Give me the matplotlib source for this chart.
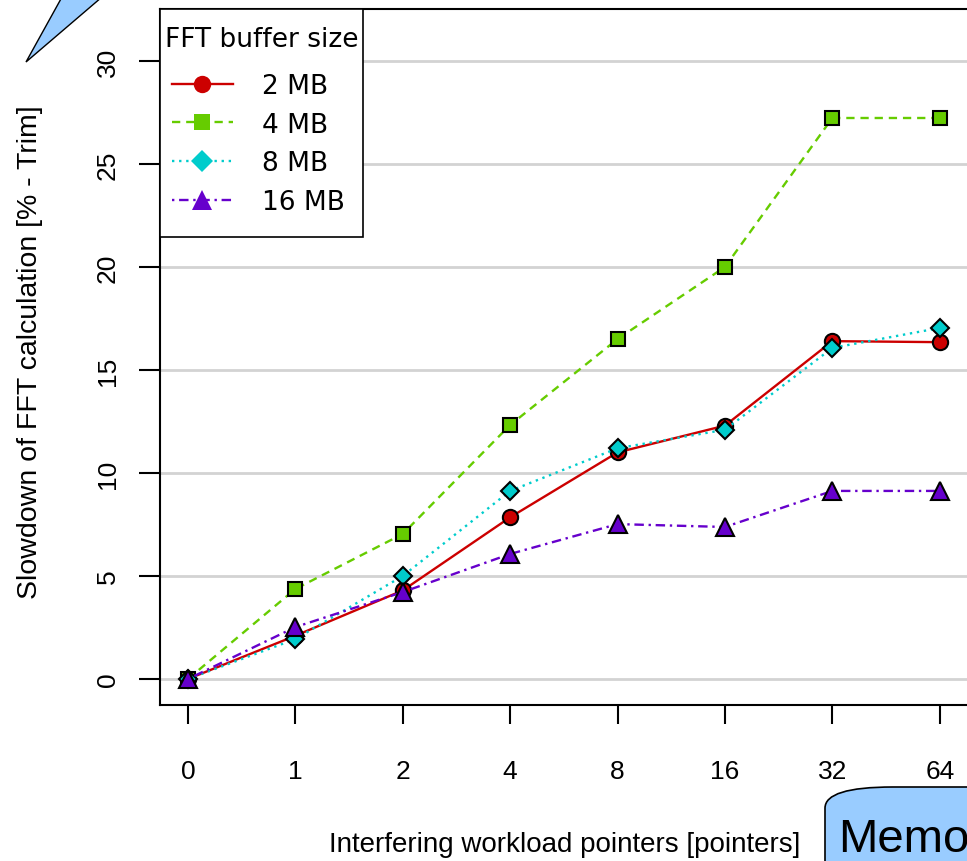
import matplotlib
matplotlib.use("Agg")
import matplotlib.pyplot as plt
from matplotlib.lines import Line2D
from matplotlib.patches import Polygon, FancyBboxPatch, Rectangle

# pointer counts (categorical x axis)
pointers = ["0", "1", "2", "4", "8", "16", "32", "64"]

# slowdown [%] per FFT buffer size
slow_2mb = [0.0, 2.1, 4.3, 7.85, 11.0, 12.3, 16.4, 16.35]
slow_4mb = [0.0, 4.37, 7.04, 12.33, 16.5, 20.0, 27.23, 27.23]
slow_8mb = [0.0, 1.94, 5.0, 9.13, 11.2, 12.1, 16.07, 17.04]
slow_16mb = [0.0, 2.52, 4.22, 6.07, 7.52, 7.38, 9.13, 9.13]

labels = ["2 MB", "4 MB", "8 MB", "16 MB"]
colors = ["#CC0000", "#66CC00", "#00CCCC", "#6600CC"]
markers = ["o", "s", "D", "^"]
msizes = [11, 10, 9.5, 13]
styles = ["-", (0, (3.5, 2.5)), (0, (1, 2)), (0, (1, 2, 4, 2))]

W, H = 967, 862
plt.rcParams['font.family'] = ['Liberation Sans', 'DejaVu Sans']
fig = plt.figure(figsize=(W / 100, H / 100), dpi=100)


def fx(x):
    return x / W


def fy(y):
    return 1 - y / H


ax = fig.add_axes([fx(160), fy(706), fx(972) - fx(160), fy(10) - fy(706)])

xs = list(range(len(pointers)))
series = [slow_2mb, slow_4mb, slow_8mb, slow_16mb]
for vals, c, m, ms, ls in zip(series, colors, markers, msizes, styles):
    ax.plot(xs, vals, color=c, linestyle=ls, linewidth=1.7, marker=m,
            markersize=ms, markerfacecolor=c, markeredgecolor="black",
            markeredgewidth=1.5, zorder=3)

ax.set_xlim(-0.26, 7.3)
ax.set_ylim(-1.26, 32.52)
ax.set_yticks([0, 5, 10, 15, 20, 25, 30])
ax.set_xticks(xs)
ax.set_xticklabels(pointers)
ax.grid(axis="y", color="#D3D3D3", linewidth=2, zorder=0)
for s in ax.spines.values():
    s.set_linewidth(1.5)
ax.spines["right"].set_visible(False)

ax.tick_params(axis="x", length=14, width=1.5, pad=25, labelsize=19)
ax.tick_params(axis="y", length=15, width=1.5, pad=14, labelsize=19,
               labelrotation=90)
for t in ax.get_yticklabels():
    t.set_va("center")

fig.text(fx(30), fy(352), "Slowdown of FFT calculation [% - Trim]",
         fontsize=20.5, rotation=90, ha="center", va="center")
fig.text(fx(565), fy(845), "Interfering workload pointers [pointers]",
         fontsize=20, ha="center", va="center")

# legend: frame and title drawn separately, like the taller R legend box
frame = Rectangle((fx(160), fy(238)), fx(363) - fx(160), fy(10) - fy(238),
                  transform=fig.transFigure, facecolor="white",
                  edgecolor="black", linewidth=1.2, zorder=4)
fig.patches.append(frame)
fig.text(fx(165), fy(40), "FFT buffer size", family="DejaVu Sans",
         fontsize=19, ha="left", va="center", zorder=6)
handles = [Line2D([], [], color=c, linestyle=ls, linewidth=1.7, marker=m,
                  markersize=ms + 1.5, markeredgewidth=0)
           for c, m, ms, ls in zip(colors, markers, msizes, styles)]
leg = fig.legend(handles, labels, loc="upper left",
                 bbox_to_anchor=(fx(160), fy(62)), bbox_transform=fig.transFigure,
                 borderaxespad=0, frameon=False,
                 handlelength=2.3, handletextpad=1.1, labelspacing=0.48,
                 borderpad=0.45, prop={"family": "DejaVu Sans", "size": 19})
leg.set_zorder(5)

# callout decorations overlapping the figure
tri = Polygon([(fx(26), fy(63)), (fx(62), fy(-2)), (fx(102), fy(-2))],
              closed=True, transform=fig.transFigure, facecolor="#99CCFF",
              edgecolor="black", linewidth=1)
fig.patches.append(tri)
memo = FancyBboxPatch((fx(825), fy(900)), fx(220), fy(788) - fy(900),
                      boxstyle="round,pad=0,rounding_size=0.07",
                      transform=fig.transFigure, facecolor="#99CCFF",
                      edgecolor="black", linewidth=1.2, mutation_aspect=0.35)
fig.patches.append(memo)
fig.text(fx(838), fy(852), "Memo", fontsize=34, ha="left", va="baseline")

fig.savefig("out.png", dpi=100)
